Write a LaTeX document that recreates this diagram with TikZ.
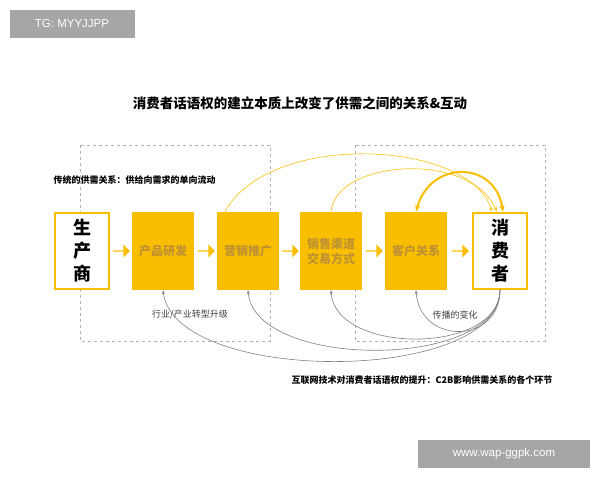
\documentclass[tikz,border=0pt]{standalone}
\usepackage{fontspec}
\setmainfont{Liberation Sans}
\newfontfamily\cjk{Noto Sans CJK SC}
\usetikzlibrary{shapes.arrows,arrows.meta}
\definecolor{gold}{RGB}{250,190,0}
\definecolor{goldtxt}{RGB}{190,145,50}
\tikzset{
  stage/.style={fill=gold,minimum width=62pt,minimum height=78pt,inner sep=0pt,
    font=\cjk\bfseries\fontsize{12}{15}\selectfont,text=goldtxt,align=center},
  endbox/.style={draw=gold,line width=1.6pt,fill=white,minimum width=54pt,minimum height=76pt,
    inner sep=0pt,font=\cjk\bfseries\fontsize{18}{23}\selectfont,align=center},
  flow/.style={single arrow,fill=gold,minimum width=13pt,single arrow head extend=2pt,
    minimum height=17pt,inner sep=0pt},
  back/.style={draw=gray,line width=0.6pt,-{Stealth[length=4pt]}},
  up/.style={draw=gold!85!white,line width=0.7pt,-{Stealth[length=5pt]}}
}
\begin{document}
\begin{tikzpicture}[x=1pt,y=-1pt]
\useasboundingbox (0,0) rectangle (600,480);
% watermarks
\node[fill=gray!70,text=white,minimum width=125pt,minimum height=28pt,font=\fontsize{11.5}{13}\selectfont] (tg) at (72,24) {TG: MYYJJPP};
\node[fill=gray!70,text=white,minimum width=172pt,minimum height=28pt,font=\fontsize{11.5}{13}\selectfont] (wm) at (504,454) {www.wap-ggpk.com};
% title
\node[font=\cjk\bfseries\fontsize{13.5}{16}\selectfont] (title) at (300,103) {消费者话语权的建立本质上改变了供需之间的关系\&互动};
% frames
\draw[gray!60,dashed] (80,145) rectangle (270,341);
\draw[gray!60,dashed] (355,145) rectangle (545,341);
\node[anchor=west,font=\cjk\bfseries\fontsize{9}{10}\selectfont] (old) at (50,180) {传统的供需关系：供给向需求的单向流动};
\node[anchor=east,font=\cjk\bfseries\fontsize{9}{10}\selectfont] (new) at (556,380) {互联网技术对消费者话语权的提升：C2B影响供需关系的各个环节};
% boxes
\node[endbox] (maker) at (82,251) {生\\产\\商};
\node[stage] (rd) at (163,251) {产品研发};
\node[stage] (mkt) at (248,251) {营销推广};
\node[stage] (sale) at (331,251) {销售渠道\\交易方式};
\node[stage] (crm) at (416,251) {客户关系};
\node[endbox] (user) at (500,251) {消\\费\\者};
\foreach \x in {121,206,290,374,460}
  \node[flow] at (\x,251) {};
% back arcs
\draw[back] (user.south) .. controls (500,385) and (175,385) .. (rd.south);
\draw[back] (user.south) .. controls (500,370) and (255,370) .. (mkt.south);
\draw[back] (user.south) .. controls (500,355) and (335,355) .. (sale.south);
\draw[back] (user.south) .. controls (500,345) and (420,345) .. (crm.south);
\node[font=\cjk\fontsize{9}{10}\selectfont,text=black!75] (lab1) at (190,315) {行业/产业转型升级};
\node[font=\cjk\fontsize{9}{10}\selectfont,text=black!75] (lab2) at (455,315) {传播的变化};
% top arcs
\draw[up] (mkt.north west)++(8,0) .. controls (270,130) and (470,140) .. (492,212);
\draw[up] (sale.north) .. controls (335,160) and (470,150) .. (497,212);
\draw[draw=gold,line width=2pt,{Stealth[length=7pt]}-{Stealth[length=7pt]}] (crm.north) ..controls (430,160) and (495,160) .. (503,212);
\end{tikzpicture}
\end{document}
